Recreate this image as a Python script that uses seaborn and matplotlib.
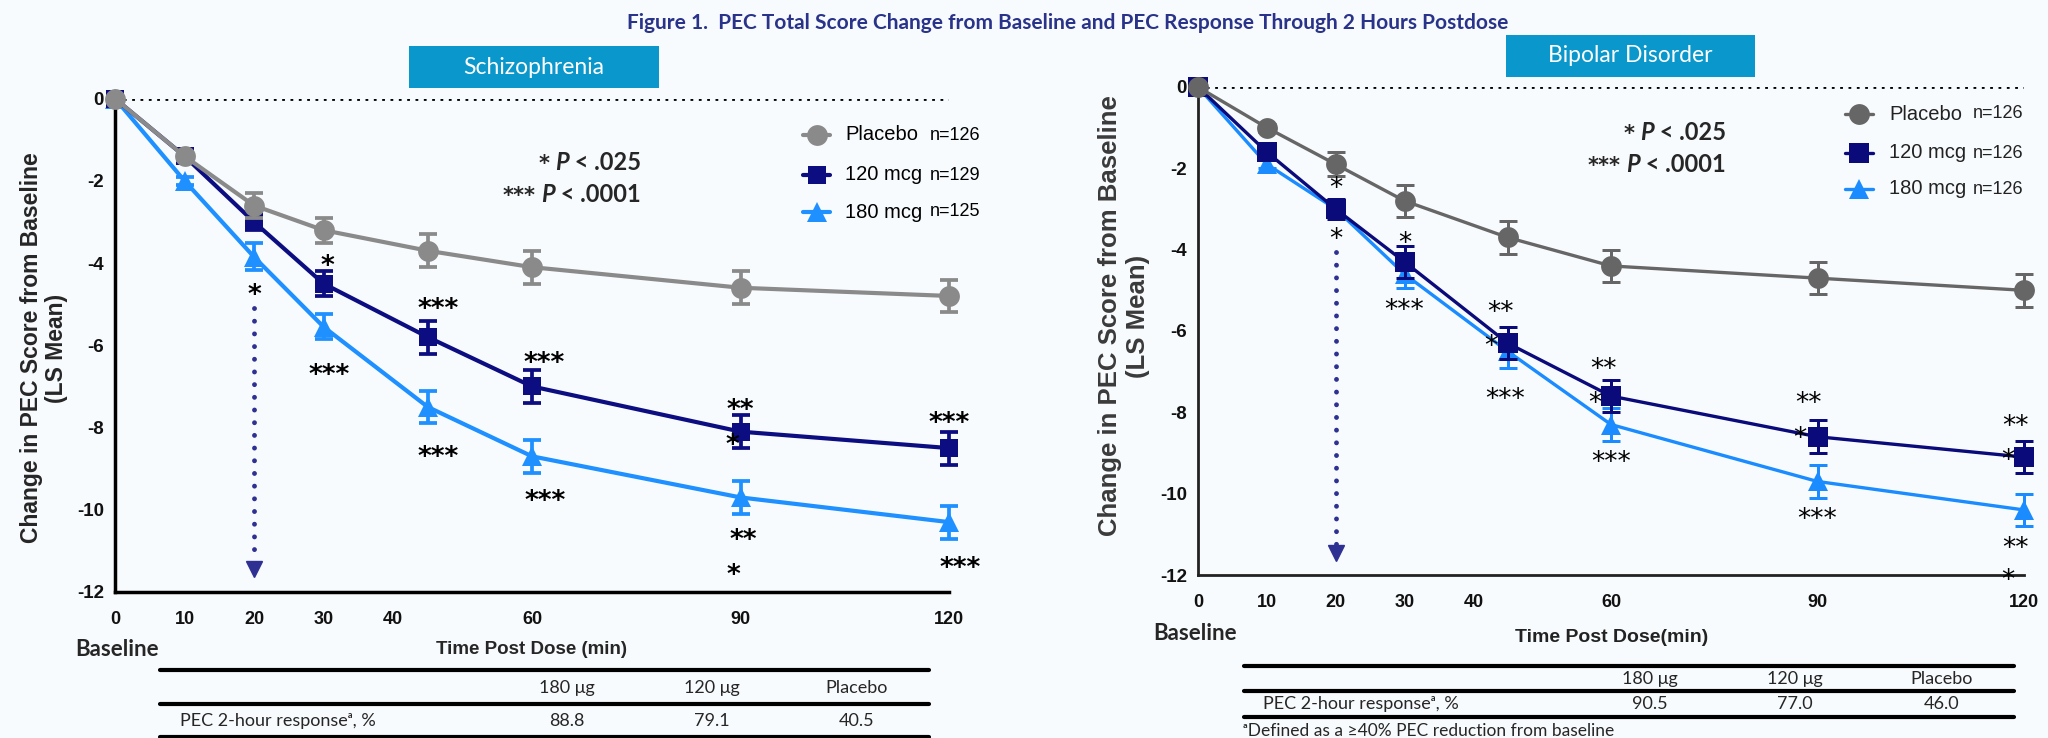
import numpy as np
import pandas as pd
import matplotlib
matplotlib.use("Agg")
import matplotlib.pyplot as plt
import seaborn as sns
from matplotlib.lines import Line2D
from matplotlib.patches import Rectangle

# ---------------- data ----------------
times = [0, 10, 20, 30, 45, 60, 90, 120]
xticks = [0, 10, 20, 30, 40, 60, 90, 120]
yticks = [0, -2, -4, -6, -8, -10, -12]
groups = ["Placebo", "120 mcg", "180 mcg"]

scz_placebo = [0, -1.4, -2.6, -3.2, -3.7, -4.1, -4.6, -4.8]
scz_placebo_err = [0, 0.1, 0.3, 0.3, 0.4, 0.4, 0.4, 0.4]
scz_120 = [0, -1.4, -3.0, -4.5, -5.8, -7.0, -8.1, -8.5]
scz_120_err = [0, 0.15, 0.2, 0.3, 0.4, 0.4, 0.4, 0.4]
scz_180 = [0, -2.0, -3.85, -5.55, -7.5, -8.7, -9.7, -10.3]
scz_180_err = [0, 0.1, 0.33, 0.3, 0.4, 0.4, 0.4, 0.4]
scz_n = ["n=126", "n=129", "n=125"]

bp_placebo = [0, -1.0, -1.9, -2.8, -3.7, -4.4, -4.7, -5.0]
bp_placebo_err = [0, 0.1, 0.3, 0.4, 0.4, 0.4, 0.4, 0.4]
bp_120 = [0, -1.6, -3.0, -4.3, -6.3, -7.6, -8.6, -9.1]
bp_120_err = [0, 0.1, 0.25, 0.4, 0.4, 0.4, 0.4, 0.4]
bp_180 = [0, -1.9, -3.0, -4.6, -6.5, -8.3, -9.7, -10.4]
bp_180_err = [0, 0.1, 0.2, 0.35, 0.4, 0.4, 0.4, 0.4]
bp_n = ["n=126", "n=126", "n=126"]

scz_sig_x = [20, 30.5, 30.8, 46.5, 46.5, 61.7, 61.9, 90, 88.8, 90.4, 89, 120, 121.6]
scz_sig_y = [-4.6, -3.9, -6.55, -4.95, -8.55, -6.25, -9.6, -7.4, -8.25, -10.55, -11.4, -7.7, -11.25]
scz_sig_txt = ["*", "*", "***", "***", "***", "***", "***", "**", "*", "**", "*", "***", "***"]

bp_sig_x = [20, 20, 30, 30, 44, 42.6, 44.6, 58.9, 57.7, 60, 88.7, 87.5, 90, 118.8, 117.6, 118.8, 117.6]
bp_sig_y = [-2.3, -3.55, -3.65, -5.3, -5.35, -6.2, -7.5, -6.75, -7.6, -9.05, -7.6, -8.45, -10.45,
            -8.15, -9.0, -11.15, -11.95]
bp_sig_txt = ["*", "*", "*", "***", "**", "*", "***", "**", "*", "***", "**", "*", "***", "**", "*", "**", "*"]

scz_arrow = [20, -5.1, -11.6]
bp_arrow = [20, -4.05, -11.6]

table_cols = ["180 \u03bcg", "120 \u03bcg", "Placebo"]
table_row = "PEC 2-hour response\u1d43, %"
scz_resp = [88.8, 79.1, 40.5]
bp_resp = [90.5, 77.0, 46.0]

pkey_stars = ["*", "***"]
pkey_vals = [" < .025", " < .0001"]

title = "Figure 1.  PEC Total Score Change from Baseline and PEC Response Through 2 Hours Postdose"

# ---------------- style ----------------
sns.set_style("white")
plt.rcParams["font.family"] = ["Liberation Sans", "DejaVu Sans"]
plt.rcParams["axes.unicode_minus"] = False

BG = "#F8FBFD"
W, H = 2048, 738
fig = plt.figure(figsize=(W / 100, H / 100), dpi=100, facecolor=BG)
renderer = fig.canvas.get_renderer()


def fx(px):
    return px / W


def fy(py):
    return 1 - py / H


CAL = ["Lato", "DejaVu Sans"]

# title
fig.text(fx(1068), fy(23), title, ha="center", va="center", fontsize=15, fontweight="bold",
         color="#29338A", family=CAL)

# panel header boxes
for (x0, y0, x1, y1, txt) in [(409, 46, 659, 88, "Schizophrenia"), (1506, 35, 1755, 77, "Bipolar Disorder")]:
    fig.add_artist(Rectangle((fx(x0), fy(y1)), fx(x1) - fx(x0), fy(y0) - fy(y1),
                             transform=fig.transFigure, color="#0A97CB", lw=0))
    fig.text(fx((x0 + x1) / 2), fy((y0 + y1) / 2), txt, ha="center", va="center",
             fontsize=16.5, color="white", family=CAL)


def draw_panel(ax, vals, errs, colors, markers, msizes, lw, sig, arrow, spine_color, spine_w, sig_weight):
    df = pd.DataFrame({
        "time": times * 3,
        "value": vals[0] + vals[1] + vals[2],
        "group": [g for g in groups for _ in times],
    })
    order = [2, 1, 0]
    for z, i in enumerate(order):
        sub = df[df["group"] == groups[i]]
        sns.lineplot(data=sub, x="time", y="value", ax=ax, color=colors[i], marker=markers[i],
                     markersize=msizes[i], markeredgecolor=colors[i], markeredgewidth=0,
                     lw=lw, legend=False, clip_on=False, zorder=3 + z, errorbar=None)
        ax.errorbar(times, vals[i], yerr=errs[i], fmt="none", ecolor=colors[i], elinewidth=lw * 0.9,
                    capsize=6.5, capthick=lw * 0.9, zorder=3 + z, clip_on=False)
    ax.axhline(0, color="black", lw=2, ls=(0, (1, 2)), zorder=1)
    ax.set_xlim(0, 120)
    ax.set_ylim(-12, 0)
    ax.set_xticks(xticks)
    ax.set_yticks(yticks)
    ax.set_xticklabels([str(t) for t in xticks])
    ax.set_yticklabels([str(t) for t in yticks])
    ax.set_xlabel("")
    ax.set_ylabel("")
    ax.set_facecolor("none")
    for s in ["top", "right"]:
        ax.spines[s].set_visible(False)
    for s in ["left", "bottom"]:
        ax.spines[s].set_color(spine_color)
        ax.spines[s].set_linewidth(spine_w)
    ax.tick_params(axis="y", direction="out", length=7, width=spine_w, pad=1, colors=spine_color,
                   labelsize=13.5)
    ax.tick_params(axis="x", direction="out", length=7, width=spine_w, pad=7, colors=spine_color,
                   labelsize=13)
    for lbl in ax.get_xticklabels() + ax.get_yticklabels():
        lbl.set_fontweight("bold")
        lbl.set_color("#111111")
    # significance asterisks
    sx, sy, st = sig
    fs = 19
    for x, y, t in zip(sx, sy, st):
        ax.annotate(t, (x, y), xytext=(0, -0.58 * fs), textcoords="offset points", ha="center",
                    va="baseline", fontsize=fs, fontweight=sig_weight, family="DejaVu Sans",
                    color="black", annotation_clip=False, zorder=10)
    # dotted arrow
    ax.plot([arrow[0], arrow[0]], [arrow[1], arrow[2] + 0.35], color="#2E3192", lw=3.5,
            ls=(0, (0.01, 2.6)), dash_capstyle="round", zorder=2)
    ax.plot([arrow[0]], [arrow[2] + 0.15], marker="v", markersize=11, color="#2E3192", zorder=2)


# ---------------- left panel ----------------
ax1 = fig.add_axes([fx(115), fy(592), (949 - 115) / W, (592 - 98.6) / H])
draw_panel(ax1, [scz_placebo, scz_120, scz_180], [scz_placebo_err, scz_120_err, scz_180_err],
           ["#8A8A8A", "#0D0D82", "#1E90FF"], ["o", "s", "^"], [15, 13, 14], 3.0,
           (scz_sig_x, scz_sig_y, scz_sig_txt), scz_arrow, "black", 2.5, "bold")

# ---------------- right panel ----------------
ax2 = fig.add_axes([fx(1198), fy(575), (2024 - 1198) / W, (575 - 87) / H])
draw_panel(ax2, [bp_placebo, bp_120, bp_180], [bp_placebo_err, bp_120_err, bp_180_err],
           ["#666666", "#0A0A7A", "#1A8CFF"], ["o", "s", "^"], [15, 14, 14], 2.4,
           (bp_sig_x, bp_sig_y, bp_sig_txt), bp_arrow, "#222222", 2.0, "normal")

# y labels
fig.text(fx(44), fy(348), "Change in PEC Score from Baseline\n(LS Mean)", rotation=90, ha="center",
         va="center", fontsize=16.5, fontweight="bold", linespacing=1.1, multialignment="center")
fig.text(fx(1124), fy(316), "Change in PEC Score from Baseline\n(LS Mean)", rotation=90, ha="center",
         va="center", fontsize=18.5, fontweight="bold", linespacing=1.22, multialignment="center",
         color="#3a3a3a")

# x labels and Baseline
fig.text(fx(531), fy(650), "Time Post Dose (min)", ha="center", va="center", fontsize=13.5, fontweight="bold")
fig.text(fx(75), fy(650), "Baseline", ha="left", va="center", fontsize=16, fontweight="bold", family=CAL)
fig.text(fx(1612), fy(638), "Time Post Dose(min)", ha="center", va="center", fontsize=14, fontweight="bold",
         color="#222222")
fig.text(fx(1153), fy(634), "Baseline", ha="left", va="center", fontsize=16, fontweight="bold", family=CAL)

# p-value keys (composed of pieces so that P is bold italic)
for (xr, ys) in [(641, (162, 194)), (1726, (132, 164))]:
    for y, stars, val in zip(ys, pkey_stars, pkey_vals):
        t1 = fig.text(fx(xr), fy(y), val, ha="right", va="center", fontsize=17, fontweight="bold",
                      family=CAL)
        x_left = t1.get_window_extent(renderer).x0
        t2 = fig.text(x_left / W, fy(y), "P", ha="right", va="center", fontsize=17, fontweight="bold",
                      fontstyle="italic", family=CAL)
        x_left = t2.get_window_extent(renderer).x0 - 6
        fig.text(x_left / W, fy(y), stars, ha="right", va="center_baseline", fontsize=15,
                 fontweight="bold", family="DejaVu Sans")


# legends (manual handles)
def legend(xl0, xl1, xtext, xn, rows, colors, markers, msizes, lw, ns, tcolor):
    for y, c, m, ms, g, n in zip(rows, colors, markers, msizes, groups, ns):
        xc = (xl0 + xl1) / 2
        fig.add_artist(Line2D([fx(xl0), fx(xc), fx(xl1)], [fy(y)] * 3, transform=fig.transFigure,
                              color=c, lw=lw, marker=m, markersize=ms, markevery=[1], markeredgewidth=0))
        fig.text(fx(xtext), fy(y), g, ha="left", va="center", fontsize=14.5, color=tcolor)
        fig.text(fx(xn), fy(y), n, ha="left", va="center", fontsize=13, color=tcolor)


legend(803, 830, 845, 930, [135, 175, 212], ["#8A8A8A", "#0D0D82", "#1E90FF"], ["o", "s", "^"],
       [15, 13, 14], 3.0, scz_n, "black")
legend(1845, 1873, 1889, 1973, [114, 153, 189], ["#666666", "#0A0A7A", "#1A8CFF"], ["o", "s", "^"],
       [15, 14, 14], 2.4, bp_n, "#222222")


# tables
def table(x0, x1, y_top, y_mid, y_bot, y_head, y_row, col_x, row_x, vals):
    for y, w in [(y_top, 3), (y_mid, 3), (y_bot, 3)]:
        fig.add_artist(Line2D([fx(x0), fx(x1)], [fy(y), fy(y)], transform=fig.transFigure,
                              color="black", lw=w))
    for cx, c in zip(col_x, table_cols):
        fig.text(fx(cx), fy(y_head), c, ha="center", va="center", fontsize=13, family=CAL)
    fig.text(fx(row_x), fy(y_row), table_row, ha="left", va="center", fontsize=13, family=CAL)
    for cx, v in zip(col_x, vals):
        fig.text(fx(cx), fy(y_row), f"{v:.1f}", ha="center", va="center", fontsize=13, family=CAL)


table(160, 929, 670, 704, 736.5, 688, 721, [567, 712, 857], 180, scz_resp)
table(1244, 2014, 666, 691, 717, 679, 704, [1650, 1795, 1942], 1263, bp_resp)
fig.text(fx(1243), fy(731), "\u1d43Defined as a \u226540% PEC reduction from baseline", ha="left", va="center",
         fontsize=12.5, family=CAL)

fig.savefig("out.png", dpi=100, facecolor=BG)
